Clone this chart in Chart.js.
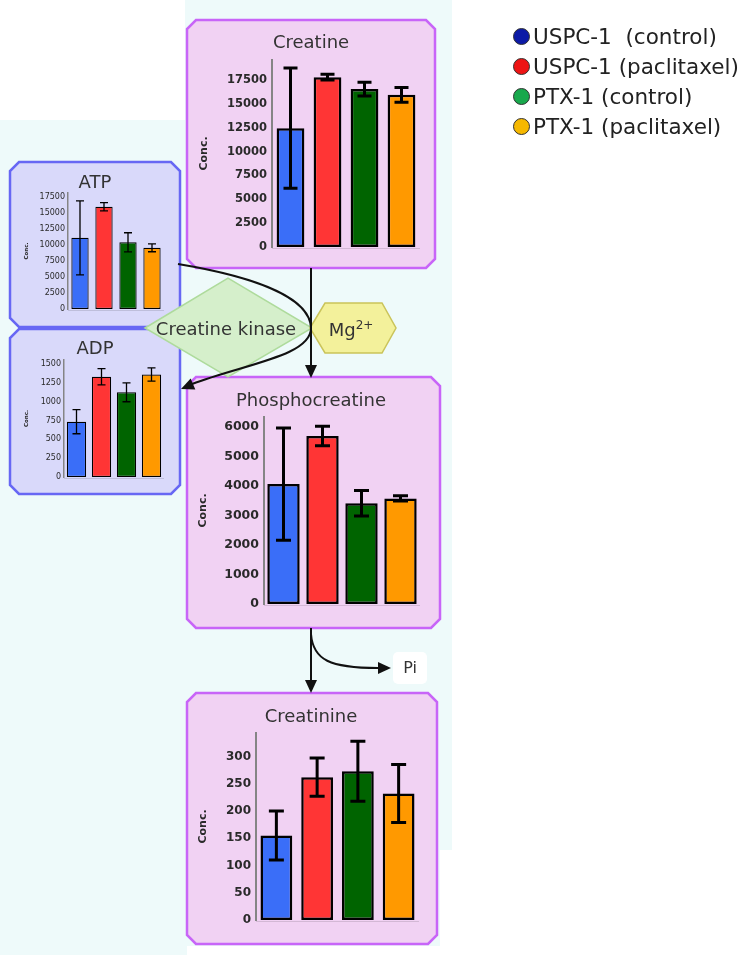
<!DOCTYPE html>
<html>
<head>
<meta charset="utf-8">
<script src="https://cdn.jsdelivr.net/npm/chart.js@4.4.0/dist/chart.umd.min.js"></script>
<style>
  html, body { margin: 0; padding: 0; background: #fff; }
  #page { position: relative; width: 740px; height: 955px; overflow: hidden; font-family: "DejaVu Sans", Verdana, sans-serif; }
  #bg { position: absolute; left: 0; top: 0; }
  .box { position: absolute; }
  .lbl { position: absolute; transform: translate(-50%, -50%); white-space: nowrap; line-height: 1; color: #333; }
  .leg { position: absolute; left: 513px; height: 24px; display: flex; align-items: center; font-size: 21.5px; color: #222; white-space: nowrap; }
  .leg i { display: inline-block; width: 15px; height: 15px; border-radius: 50%; border: 1px solid #333; margin-right: 3px; }
</style>
</head>
<body>
<div id="page">
  <canvas id="bg" width="740" height="955"></canvas>

  <div class="box" style="left:196px;top:56px"><canvas id="cCreatine" width="228" height="196"></canvas></div>
  <div class="box" style="left:20px;top:189px"><canvas id="cATP" width="148" height="125"></canvas></div>
  <div class="box" style="left:18px;top:356px"><canvas id="cADP" width="150" height="126"></canvas></div>
  <div class="box" style="left:190px;top:413px"><canvas id="cPCr" width="234" height="196"></canvas></div>
  <div class="box" style="left:190px;top:729px"><canvas id="cCrn" width="234" height="196"></canvas></div>

  <div class="lbl" style="left:311px;top:42px;font-size:18px">Creatine</div>
  <div class="lbl" style="left:95px;top:182px;font-size:18px">ATP</div>
  <div class="lbl" style="left:95px;top:348px;font-size:18px">ADP</div>
  <div class="lbl" style="left:311px;top:400px;font-size:18px">Phosphocreatine</div>
  <div class="lbl" style="left:311px;top:716px;font-size:18px">Creatinine</div>

  <div class="lbl" style="left:226px;top:329px;font-size:18px">Creatine kinase</div>
  <div class="lbl" style="left:351px;top:329px;font-size:18px">Mg<sup style="font-size:12px;vertical-align:7px">2+</sup></div>
  <div class="lbl" style="left:410px;top:668px;font-size:16px">Pi</div>

  <div id="legend"></div>
</div>

<script>
// groups / colours
const groups = ['USPC-1  (control)', 'USPC-1 (paclitaxel)', 'PTX-1 (control)', 'PTX-1 (paclitaxel)'];
const barColors = ['#3a6ef8', '#ff3535', '#006400', '#ff9900'];
const legendColors = ['#0c1aa6', '#ee1414', '#18a84c', '#f6b800'];

// values (mean and error)
const creatineMean = [12450, 17800, 16550, 15950];
const creatineErr = [6300, 300, 720, 780];
const creatineTicks = [0, 2500, 5000, 7500, 10000, 12500, 15000, 17500];

const atpMean = [11100, 15950, 10400, 9550];
const atpErr = [5780, 650, 1500, 620];
const atpTicks = [0, 2500, 5000, 7500, 10000, 12500, 15000, 17500];

const adpMean = [735, 1333, 1125, 1362];
const adpErr = [160, 108, 125, 88];
const adpTicks = [0, 250, 500, 750, 1000, 1250, 1500];

const pcrMean = [4060, 5690, 3410, 3575];
const pcrErr = [1900, 330, 430, 90];
const pcrTicks = [0, 1000, 2000, 3000, 4000, 5000, 6000];

const crnMean = [155, 262, 273, 232];
const crnErr = [45, 35, 55, 53];
const crnTicks = [0, 50, 100, 150, 200, 250, 300];

// ---- background diagram ----
const bg = document.getElementById('bg').getContext('2d');

function octagon(ctx, x0, y0, x1, y1, c) {
  ctx.beginPath();
  ctx.moveTo(x0 + c, y0);
  ctx.lineTo(x1 - c, y0);
  ctx.lineTo(x1, y0 + c);
  ctx.lineTo(x1, y1 - c);
  ctx.lineTo(x1 - c, y1);
  ctx.lineTo(x0 + c, y1);
  ctx.lineTo(x0, y1 - c);
  ctx.lineTo(x0, y0 + c);
  ctx.closePath();
}

function panel(x0, y0, x1, y1, fill, stroke) {
  octagon(bg, x0, y0, x1, y1, 9);
  bg.fillStyle = fill;
  bg.fill();
  bg.lineWidth = 2.5;
  bg.strokeStyle = stroke;
  bg.stroke();
}

function arrowHead(tx, ty, dx, dy, len, half) {
  const n = Math.hypot(dx, dy);
  const ux = dx / n, uy = dy / n;
  const bx = tx - ux * len, by = ty - uy * len;
  bg.beginPath();
  bg.moveTo(tx, ty);
  bg.lineTo(bx - uy * half, by + ux * half);
  bg.lineTo(bx + uy * half, by - ux * half);
  bg.closePath();
  bg.fillStyle = '#111';
  bg.fill();
}

bg.fillStyle = '#fff';
bg.fillRect(0, 0, 740, 955);
bg.fillStyle = '#eefafa';
bg.beginPath();
[[0, 120], [185, 120], [185, 0], [452, 0], [452, 850], [440, 850], [440, 946], [187, 946], [187, 955], [0, 955]]
  .forEach(([x, y], i) => i ? bg.lineTo(x, y) : bg.moveTo(x, y));
bg.closePath();
bg.fill();

panel(187, 20, 435, 268, '#f1d2f3', '#c865f8');
panel(10, 162, 180, 327, '#d9d9fa', '#6767f4');
panel(10, 329, 180, 494, '#d9d9fa', '#6767f4');
panel(187, 377, 440, 628, '#f1d2f3', '#c865f8');
panel(187, 693, 437, 944, '#f1d2f3', '#c865f8');

// creatine kinase diamond
bg.beginPath();
bg.moveTo(145, 328); bg.lineTo(228, 278); bg.lineTo(312, 328); bg.lineTo(228, 377);
bg.closePath();
bg.fillStyle = '#d5efcb';
bg.fill();
bg.lineWidth = 1.5;
bg.strokeStyle = '#aedb9c';
bg.stroke();

// Mg hexagon
bg.beginPath();
bg.moveTo(310, 328); bg.lineTo(325, 303); bg.lineTo(382, 303);
bg.lineTo(396, 328); bg.lineTo(382, 353); bg.lineTo(325, 353);
bg.closePath();
bg.fillStyle = '#f3f19b';
bg.fill();
bg.strokeStyle = '#cac45a';
bg.stroke();

// arrows
bg.strokeStyle = '#111';
bg.lineWidth = 2;
bg.beginPath();
bg.moveTo(311, 268); bg.lineTo(311, 366);
bg.stroke();
arrowHead(311, 378, 0, 1, 13, 6);

bg.beginPath();
bg.moveTo(178, 264);
bg.bezierCurveTo(250, 276, 310, 296, 311, 328);
bg.bezierCurveTo(311, 356, 245, 364, 192, 384);
bg.stroke();
arrowHead(181, 389, -57, 24, 13, 6);

bg.beginPath();
bg.moveTo(311, 628); bg.lineTo(311, 681);
bg.stroke();
arrowHead(311, 693, 0, 1, 13, 6);

bg.beginPath();
bg.moveTo(311, 634);
bg.bezierCurveTo(313, 660, 330, 668, 378, 668);
bg.stroke();
arrowHead(391, 668, 1, 0, 13, 6);

// Pi box
bg.fillStyle = '#fff';
bg.beginPath();
bg.roundRect(393, 652, 34, 32, 5);
bg.fill();

// ---- legend ----
const legendTops = [24, 54, 84, 114];
document.getElementById('legend').innerHTML = groups.map((g, i) =>
  `<div class="leg" style="top:${legendTops[i]}px"><i style="background:${legendColors[i]}"></i>${g.replace(/ /g, '&nbsp;')}</div>`
).join('');

// ---- error bars + faint baseline ----
const errorBarPlugin = {
  id: 'errorBars',
  afterDatasetsDraw(chart, args, opts) {
    const { ctx, chartArea } = chart;
    const y = chart.scales.y;
    const meta = chart.getDatasetMeta(0);
    ctx.save();
    const y0 = y.getPixelForValue(0);
    ctx.strokeStyle = 'rgba(0,0,0,0.12)';
    ctx.lineWidth = 1;
    ctx.beginPath();
    ctx.moveTo(chartArea.left, y0 + 1.5); ctx.lineTo(chartArea.right, y0 + 1.5);
    ctx.stroke();
    ctx.strokeStyle = '#000';
    ctx.lineWidth = opts.lineWidth;
    meta.data.forEach((bar, i) => {
      const m = opts.mean[i], e = opts.err[i];
      const yHi = y.getPixelForValue(m + e);
      const yLo = y.getPixelForValue(m - e);
      const half = opts.cap / 2;
      ctx.beginPath();
      ctx.moveTo(bar.x, yHi); ctx.lineTo(bar.x, yLo);
      ctx.moveTo(bar.x - half, yHi); ctx.lineTo(bar.x + half, yHi);
      ctx.moveTo(bar.x - half, yLo); ctx.lineTo(bar.x + half, yLo);
      ctx.stroke();
    });
    ctx.restore();
  },
};

function buildPanelChart(id, mean, err, ticks, p) {
  return new Chart(document.getElementById(id), {
    type: 'bar',
    data: {
      labels: groups,
      datasets: [{
        data: mean,
        backgroundColor: barColors,
        borderColor: '#000',
        borderWidth: p.barBorder,
        borderSkipped: false,
        barPercentage: p.barPct,
        categoryPercentage: 1,
      }],
    },
    options: {
      responsive: false,
      animation: false,
      devicePixelRatio: 1,
      layout: { padding: { top: 4, bottom: 5, left: 0, right: p.padRight } },
      plugins: {
        legend: { display: false },
        title: { display: false },
        tooltip: { enabled: false },
        errorBars: { mean, err, lineWidth: p.errWidth, cap: p.cap },
      },
      scales: {
        x: { display: false },
        y: {
          min: 0,
          max: p.max,
          afterBuildTicks: s => { s.ticks = ticks.map(v => ({ value: v })); },
          afterFit: s => { s.width = p.yWidth; s.paddingTop = 0; s.paddingBottom = 0; },
          grid: { display: false, drawTicks: false },
          border: { display: true, color: '#858585', width: p.axisWidth },
          ticks: {
            padding: p.tickPad,
            color: '#2a2a2a',
            font: { family: 'DejaVu Sans', size: p.tickSize, weight: p.tickWeight },
            callback: v => String(v),
          },
          title: {
            display: true,
            text: 'Conc.',
            color: '#2a2a2a',
            padding: { top: p.titlePad, bottom: 0 },
            font: { family: 'DejaVu Sans', size: p.titleSize, weight: 'bold' },
          },
        },
      },
    },
    plugins: [errorBarPlugin],
  });
}

const big = { barBorder: 2.5, errWidth: 3, tickSize: 11.5, tickWeight: 'bold', titleSize: 11, tickPad: 5, axisWidth: 2, padRight: 4 };
const small = { barBorder: 1.2, errWidth: 1.3, tickSize: 8, tickWeight: 'normal', titleSize: 5.5, tickPad: 3, axisWidth: 1.5, padRight: 4 };

buildPanelChart('cCreatine', creatineMean, creatineErr, creatineTicks,
  { ...big, max: 19600, yWidth: 76, barPct: 0.75, cap: 14, titlePad: 2 });
buildPanelChart('cATP', atpMean, atpErr, atpTicks,
  { ...small, max: 18100, yWidth: 48, barPct: 0.72, cap: 8, titlePad: 3 });
buildPanelChart('cADP', adpMean, adpErr, adpTicks,
  { ...small, max: 1555, yWidth: 46, barPct: 0.77, cap: 8, titlePad: 5 });
buildPanelChart('cPCr', pcrMean, pcrErr, pcrTicks,
  { ...big, tickSize: 12.5, max: 6330, yWidth: 74, barPct: 0.83, cap: 15, titlePad: 7 });
buildPanelChart('cCrn', crnMean, crnErr, crnTicks,
  { ...big, tickSize: 12, max: 343, yWidth: 66, barPct: 0.78, cap: 15, titlePad: 7, padRight: 5 });
</script>
</body>
</html>
